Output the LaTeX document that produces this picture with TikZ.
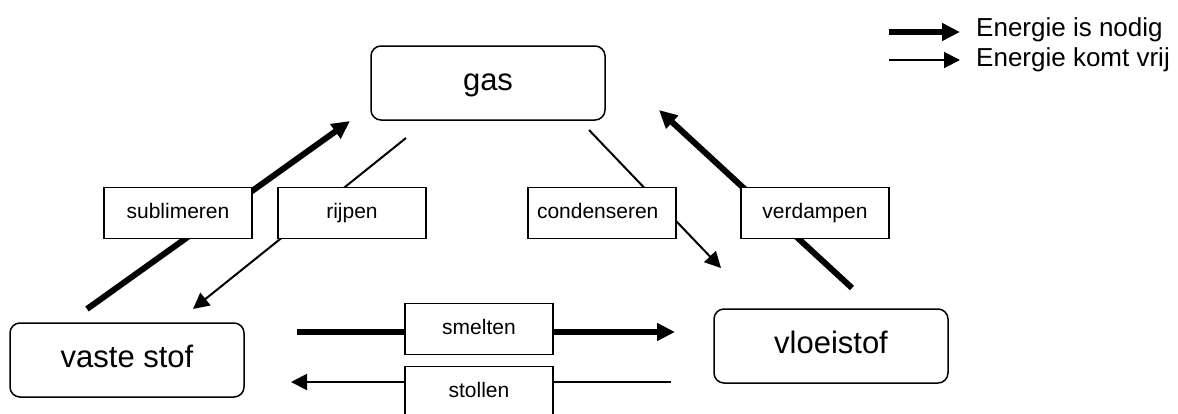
\documentclass[tikz,border=0pt]{standalone}
\usepackage{fontspec}
\setmainfont{Liberation Sans}
\usetikzlibrary{arrows.meta}

\begin{document}
\begin{tikzpicture}[x=1pt,y=-1pt,
fase/.style={draw=black,line width=1.5pt,shape=rectangle,rounded corners=10pt,
minimum width=234pt,minimum height=74pt,inner sep=0pt,
font=\fontsize{31}{37}\selectfont,text height=22.3pt,text depth=6.5pt},
overgang/.style={draw=black,fill=white,line width=1.3pt,shape=rectangle,
minimum width=148pt,minimum height=51pt,inner sep=0pt,
font=\fontsize{21}{25}\selectfont,text height=15.1pt,text depth=4.4pt},
nodig/.style={line width=6pt,-{Triangle[length=18pt,width=17pt]}},
vrij/.style={line width=2pt,-{Triangle[length=16pt,width=16pt]}},
legenda/.style={anchor=west,inner sep=0pt,
font=\fontsize{26}{30}\selectfont,text height=18.7pt,text depth=5.5pt}]
\clip (0,0) rectangle (1178,413);

\node[fase] (gas) at (488,83) {gas};
\node[fase] (vast) at (127,360) {vaste stof};
\node[fase] (vloei) at (831,346) {vloeistof};

\coordinate (sub1) at (87,309); \coordinate (sub2) at (350,121);
\coordinate (rij1) at (406,138); \coordinate (rij2) at (193,309);
\coordinate (con1) at (589,130); \coordinate (con2) at (721,268);
\coordinate (ver1) at (852,288); \coordinate (ver2) at (659,110);
\coordinate (sme1) at (297,332); \coordinate (sme2) at (675,332);
\coordinate (sto1) at (671,382); \coordinate (sto2) at (291,382);

\draw[nodig] (sub1) -- (sub2);
\draw[vrij] (rij1) -- (rij2);
\draw[vrij] (con1) -- (con2);
\draw[nodig] (ver1) -- (ver2);
\draw[nodig] (sme1) -- (sme2);
\draw[vrij] (sto1) -- (sto2);

\node[overgang] (sublimeren) at (178,213) {sublimeren};
\node[overgang] (rijpen) at (352,213) {rijpen};
\node[overgang,text width=130pt] (condenseren) at (602,213) {condenseren};
\node[overgang] (verdampen) at (815,213) {verdampen};
\node[overgang] (smelten) at (479,329) {smelten};
\node[overgang] (stollen) at (479,392) {stollen};

\coordinate (leg1) at (889,32); \coordinate (leg2) at (960,32);
\coordinate (leg3) at (889,60); \coordinate (leg4) at (960,60);
\draw[nodig] (leg1) -- (leg2);
\draw[vrij] (leg3) -- (leg4);
\node[legenda] (nodigtekst) at (976,29.5) {Energie is nodig};
\node[legenda] (vrijtekst) at (976,59.5) {Energie komt vrij};
\end{tikzpicture}
\end{document}
